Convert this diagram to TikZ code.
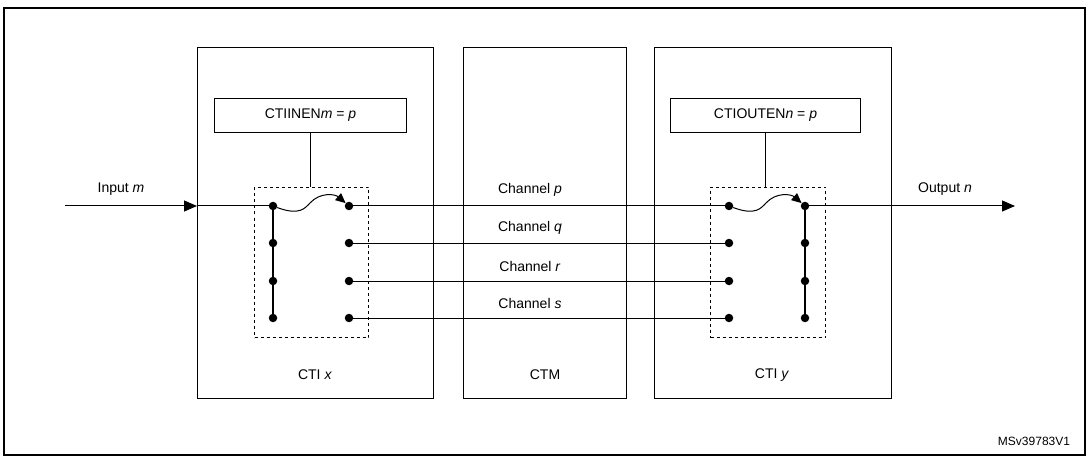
\documentclass[tikz,border=0pt]{standalone}
\usepackage{fontspec}
\setmainfont{Liberation Sans}
\usetikzlibrary{arrows.meta}
\begin{document}
\begin{tikzpicture}[x=1pt,y=-1pt,
  box/.style={draw,line width=1pt},
  dot/.style={circle,fill,inner sep=0pt,minimum size=8.5pt},
  lbl/.style={font=\fontsize{14}{16}\selectfont,inner sep=0pt},
  ln/.style={line width=1pt},
  arr/.style={ln,-{Triangle[length=13pt,width=11pt]}}]
\useasboundingbox (0,0) rectangle (1089,457);
\draw[line width=1.5pt] (4,8) rectangle (1085,455);
\node[box,minimum width=236pt,minimum height=351pt,anchor=north west] (ctix) at (197,47) {};
\node[box,minimum width=163pt,minimum height=351pt,anchor=north west] (ctm) at (463,47) {};
\node[box,minimum width=237pt,minimum height=351pt,anchor=north west] (ctiy) at (654,47) {};
\node[box,minimum width=192pt,minimum height=34pt,anchor=north west,lbl] (inen) at (214,98) {CTIINEN\textit{m} = \textit{p}};
\node[box,minimum width=190pt,minimum height=34pt,anchor=north west,lbl] (outen) at (670,98) {CTIOUTEN\textit{n} = \textit{p}};
\node[draw,dashed,ln,minimum width=114pt,minimum height=150pt,anchor=north west] (dl) at (254,187) {};
\node[draw,dashed,ln,minimum width=115pt,minimum height=150pt,anchor=north west] (dr) at (710,187) {};
\draw[ln] (inen.south) -- (inen.south |- dl.north);
\draw[ln] (outen.south) -- (outen.south |- dr.north);
\foreach \i/\y in {1/206,2/243,3/281,4/318}{
  \node[dot] (a\i) at (273,\y) {};
  \node[dot] (b\i) at (349,\y) {};
  \node[dot] (c\i) at (729,\y) {};
  \node[dot] (d\i) at (805,\y) {};
}
\draw[line width=1.5pt] (a1.center) -- (a4.center);
\draw[line width=1.5pt] (d1.center) -- (d4.center);
\coordinate (in) at (65,206);
\coordinate (out) at (1015,206);
\draw[arr] (in) -- (ctix.west |- in);
\draw[ln] (ctix.west |- in) -- (a1);
\draw[arr] (d1) -- (out);
\draw[ln] (b1) -- (c1);
\foreach \i in {2,3,4}{\draw[ln] (b\i) -- (c\i);}
\draw[ln,-{Triangle[length=10pt,width=9pt]}] (a1) .. controls (300,216) and (305,208) .. (310,203) .. controls (320,192) and (335,194) .. (b1);
\draw[ln,-{Triangle[length=10pt,width=9pt]}] (c1) .. controls (756,216) and (761,208) .. (766,203) .. controls (776,192) and (791,194) .. (d1);
\node[lbl] (tin) at (121,189) {Input \textit{m}};
\node[lbl] (tout) at (945,189) {Output \textit{n}};
\node[lbl] (cp) at (530,190) {Channel \textit{p}};
\node[lbl] (cq) at (530,228) {Channel \textit{q}};
\node[lbl] (cr) at (530,266) {Channel \textit{r}};
\node[lbl] (cs) at (530,303) {Channel \textit{s}};
\node[lbl] (lx) at (315,375) {CTI \textit{x}};
\node[lbl] (lm) at (545,375) {CTM};
\node[lbl] (ly) at (772,375) {CTI \textit{y}};
\node[lbl,font=\fontsize{12}{14}\selectfont] (id) at (1034,441) {MSv39783V1};
\end{tikzpicture}
\end{document}
